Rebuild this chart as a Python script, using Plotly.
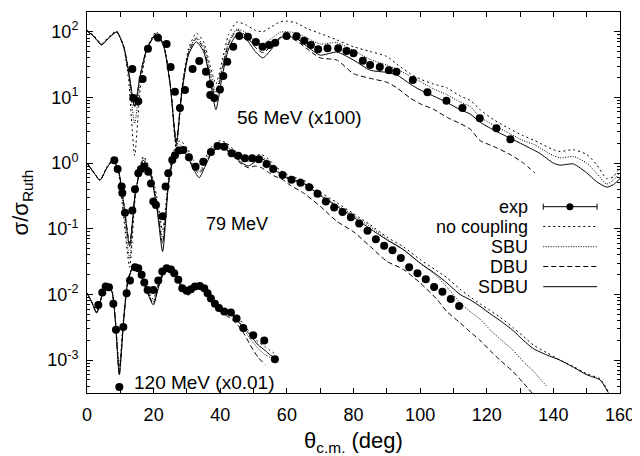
import math
import plotly.graph_objects as go

# ---- 56 MeV (x100) ----
exp56_x = [13.6, 13.9, 15.4, 16.7, 18.3, 21.3, 23.9, 25.1, 26.4, 27.9, 29.4, 31.7, 33.7, 35.7,
           36.9, 37.0, 38.2, 39.9, 40.9, 42.1, 43.9, 45.7, 48.3, 50.7, 52.7, 54.7, 56.5, 59.9,
           62.9, 65.2, 67.2, 69.4, 72.2, 75.4, 77.9, 80.0, 82.8, 85.0, 87.9, 90.6, 92.9, 97.8,
           102.2, 107.9, 112.7, 117.9, 122.9, 127.1]
exp56_y = [27, 9.8, 8.7, 19, 55, 81, 65, 29, 12.2, 6.9, 13, 27, 35.7, 24.6,
           15.8, 10.9, 9.8, 13.2, 21.2, 35, 59, 86, 84, 70, 59, 63, 68, 86,
           85, 73, 63, 54, 56, 56, 51, 47, 36, 31, 29, 26, 24.6, 18.4,
           12.0, 8.9, 6.9, 4.8, 3.4, 2.3]

th56 = [0, 2, 4.4, 6.5, 8.9, 11, 12.5, 14.3, 16, 18, 20.8, 23, 25, 26.8, 28.5, 30.5, 32.8, 35,
        37, 38.7, 40.5, 42.5, 45, 48, 50.5, 52.8, 55.5, 58, 60, 63, 66, 70, 75, 80, 85, 90, 93,
        97, 100, 104, 108, 112, 115, 118, 122, 127, 131, 134.4, 136, 140, 142, 146, 150, 153,
        156, 158, 160]
nc56 = [105, 88, 66, 83, 103, 58, 18, 1.3, 14, 55, 100, 66, 16, 1.6, 14, 55, 95, 70,
        30, 16, 35, 90, 140, 125, 105, 100, 120, 142, 145, 135, 112, 94, 75, 59, 50, 42, 32,
        23, 19, 16, 14, 10.5, 9, 6.5, 4.6, 3.3, 2.6, 2.2, 2.0, 1.6, 1.5, 1.6, 1.35, 0.95,
        0.58, 0.62, 0.87]
sbu56 = [104, 86, 64, 81, 100, 59, 22, 4, 18, 55, 95, 62, 15, 1.8, 13, 50, 82, 60,
         25, 12, 28, 70, 110, 95, 72, 65, 80, 98, 100, 95, 80, 65, 68, 52, 38, 31, 27,
         21, 17.5, 13.5, 11, 8.5, 7.3, 5.0, 3.8, 2.8, 2.2, 1.9, 1.7, 1.3, 1.2, 1.26, 1.0, 0.7,
         0.48, 0.55, 0.71]
dbu56 = [103, 85, 63, 80, 99, 60, 24, 7, 22, 56, 92, 62, 16, 2.2, 13, 48, 78, 55,
         20, 10, 25, 65, 105, 85, 58, 48, 62, 82, 84, 72, 55, 40, 37, 23, 19.5, 17, 14,
         9.8, 8, 6.6, 5.0, 4.0, 3.3, 2.2, 1.8, 1.35, 1.0, 0.71, None, None, None, None, None, None,
         None, None, None]
sdbu56 = [103, 85, 63, 80, 98, 60, 25, 7.3, 22, 55, 90, 60, 15, 2.0, 12, 45, 70, 50,
          18, 6.5, 20, 55, 90, 75, 50, 40, 55, 80, 86, 78, 60, 44, 49, 37, 26, 24, 22,
          16, 13, 10.5, 8.4, 6.5, 5.6, 4.2, 3.2, 2.4, 1.9, 1.55, 1.4, 1.0, 0.93, 0.97, 0.71, 0.52,
          0.43, 0.47, 0.58]

# ---- 79 MeV ----
exp79_x = [8.2, 9.2, 10.4, 10.6, 11.4, 13.6, 14.4, 15.4, 16.2, 17.2, 18.4, 19.2, 19.9, 20.7,
           22.7, 23.6, 24.4, 25.6, 26.4, 27.6, 28.9, 30.6, 32.6, 34.9, 37.2, 39.2, 41.2, 43.4,
           45.4, 47.4, 49.6, 51.6, 53.9, 55.9, 58.7, 61.4, 64.1, 66.7, 69.2, 71.7, 74.2, 76.7,
           79.2, 81.7, 84.2, 86.7, 89.2, 91.7, 94.2, 96.7, 99.2, 101.7, 104.2, 106.7, 109.2, 111.7]
exp79_y = [1.1, 0.81, 0.44, 0.35, 0.176, 0.19, 0.40, 0.70, 0.81, 0.88, 0.74, 0.49, 0.26, 0.23,
           0.155, 0.44, 0.70, 1.11, 1.32, 1.55, 1.58, 1.23, 0.88, 1.05, 1.48, 1.82, 1.78, 1.41,
           1.29, 1.18, 1.18, 1.14, 0.97, 0.81, 0.66, 0.56, 0.50, 0.43, 0.34, 0.26, 0.21, 0.18,
           0.15, 0.12, 0.093, 0.069, 0.055, 0.047, 0.036, 0.026, 0.021, 0.017, 0.013, 0.011,
           0.0085, 0.0067]

th79 = [0, 2, 3.9, 6, 7.9, 9.5, 11, 12.8, 14.5, 16.9, 19, 21, 22.7, 24.5, 26, 27.9, 30, 32,
        33.7, 35.5, 37.5, 39.9, 42, 44, 46, 48.4, 50.5, 52.4, 54.5, 56.4, 58.5, 61, 65, 70, 75,
        80, 85, 90, 95, 100, 105, 108, 112, 115, 118, 121, 124, 128, 131, 134, 138, 142, 146,
        150, 154, 156.5]
nc79 = [1.0, 0.73, 0.56, 0.88, 1.15, 0.7, 0.15, 0.026, 0.3, 1.26, 0.8, 0.3, 0.095, 0.6, 1.5,
        2.2, 1.7, 1.1, 0.93, 1.2, 1.8, 2.2, 2.0, 1.6, 1.35, 1.2, 1.3, 1.35, 1.15, 0.9, 0.75,
        0.63, 0.55, 0.36, 0.25, 0.17, 0.115, 0.075, 0.053, 0.034, 0.023, 0.018, 0.012, 0.0092,
        0.0072, 0.0057, 0.0045, 0.0031, 0.0023, 0.0017, 0.0013, 0.001, 0.0008, 0.00062,
        0.00052, 0.00033]
sbu79 = [1.0, 0.72, 0.55, 0.86, 1.12, 0.72, 0.2, 0.035, 0.32, 1.2, 0.75, 0.25, 0.07, 0.55,
         1.35, 1.9, 1.5, 0.95, 0.75, 1.05, 1.6, 2.0, 1.8, 1.45, 1.2, 1.05, 1.15, 1.25, 1.05,
         0.82, 0.68, 0.58, 0.5, 0.33, 0.23, 0.16, 0.108, 0.07, 0.048, 0.03, 0.019, 0.013,
         0.0075, 0.0055, 0.0042, 0.0029, 0.0021, 0.0014, 0.00095, 0.00068, 0.0004, None, None,
         None, None, None]
dbu79 = [1.0, 0.72, 0.55, 0.85, 1.1, 0.75, 0.25, 0.06, 0.35, 1.1, 0.7, 0.22, 0.06, 0.5, 1.2,
         1.65, 1.3, 0.85, 0.7, 0.95, 1.45, 1.75, 1.55, 1.25, 1.0, 0.85, 0.9, 0.85, 0.72, 0.63,
         0.57, 0.46, 0.35, 0.22, 0.13, 0.09, 0.054, 0.032, 0.024, 0.015, 0.0085, 0.0055,
         0.0037, 0.0027, 0.002, 0.0014, 0.001, 0.00066, 0.00045, 0.0003, None, None, None,
         None, None, None]
sdbu79 = [1.0, 0.72, 0.55, 0.85, 1.1, 0.75, 0.25, 0.054, 0.35, 1.1, 0.7, 0.2, 0.045, 0.5,
          1.2, 1.68, 1.3, 0.8, 0.6, 0.9, 1.45, 1.82, 1.6, 1.3, 1.05, 0.9, 1.05, 1.17, 1.0,
          0.79, 0.65, 0.56, 0.49, 0.32, 0.22, 0.15, 0.10, 0.068, 0.048, 0.030, 0.020, 0.015,
          0.010, 0.0083, 0.0066, 0.0051, 0.004, 0.0028, 0.002, 0.0015, 0.0012, 0.001, 0.00078,
          0.0006, 0.0005, 0.00032]

# ---- 120 MeV (x0.01) ----
exp120_x = [3.4, 4.6, 5.6, 6.6, 7.9, 8.7, 9.7, 10.9, 11.9, 12.9, 14.4, 15.4, 16.4, 17.2, 18.2,
            19.9, 21.4, 22.6, 23.9, 25.2, 26.2, 27.4, 28.6, 29.9, 31.2, 32.4, 33.9, 35.2, 36.2,
            37.2, 38.4, 39.6, 41.2, 43.2, 44.9, 46.9, 49.9, 53.2, 56.4]
exp120_y = [0.0069, 0.0107, 0.0132, 0.0129, 0.0072, 0.0029, 0.00039, 0.0032, 0.0104, 0.0163,
            0.026, 0.025, 0.020, 0.0152, 0.0117, 0.0117, 0.0163, 0.0224, 0.025, 0.024, 0.021,
            0.0167, 0.0124, 0.0114, 0.0120, 0.0132, 0.0135, 0.0124, 0.0104, 0.0087, 0.0072,
            0.0062, 0.0055, 0.0053, 0.0043, 0.0031, 0.0024, 0.0020, 0.00103]

th120 = [0, 1.5, 2.9, 4.5, 6.2, 7.5, 8.5, 9.7, 11, 12.3, 13.9, 15.5, 17.5, 19.9, 21.5, 23.9,
         26, 28, 30.4, 33.4, 35.5, 37.5, 39.4, 41.5, 43.4, 45.5, 47.4, 49, 51.4, 53.5, 55, 57]
nc120 = [0.0105, 0.0076, 0.0054, 0.0098, 0.014, 0.0115, 0.0045, 0.0008, 0.0045, 0.017, 0.027,
         0.025, 0.014, 0.0085, 0.015, 0.027, 0.023, 0.015, 0.0115, 0.0142, 0.0125, 0.009,
         0.0068, 0.006, 0.0053, 0.0043, 0.0033, 0.0026, 0.0019, 0.0016, 0.0014, 0.0012]
sbu120 = [0.0105, 0.0075, 0.0053, 0.0096, 0.0137, 0.0112, 0.0042, 0.0007, 0.0042, 0.0165,
          0.0265, 0.0245, 0.0135, 0.0078, 0.014, 0.0265, 0.0225, 0.0145, 0.0108, 0.014,
          0.0122, 0.0088, 0.0065, 0.0057, 0.005, 0.0039, 0.0028, 0.0021, 0.0015, 0.0012,
          0.0011, 0.001]
dbu120 = [0.0105, 0.0075, 0.0052, 0.0095, 0.0135, 0.011, 0.004, 0.0006, 0.004, 0.016, 0.026,
          0.024, 0.013, 0.0072, 0.0135, 0.026, 0.022, 0.014, 0.01, 0.0135, 0.0115, 0.008,
          0.0058, 0.0049, 0.0042, 0.0033, 0.0024, 0.0017, 0.0011, 0.00085, None, None]
sdbu120 = [0.0105, 0.0075, 0.0052, 0.0095, 0.0135, 0.011, 0.004, 0.0006, 0.004, 0.016, 0.026,
           0.024, 0.013, 0.0069, 0.013, 0.026, 0.022, 0.014, 0.0098, 0.0138, 0.012, 0.0085,
           0.0062, 0.0055, 0.0049, 0.0038, 0.003, 0.0024, 0.0017, 0.0014, 0.0012, 0.00105]

# energy labels: (text, angle, value, font size)
labels = [("56 MeV (x100)", 63.9, 4.9, 19), ("79 MeV", 44.9, 0.12, 18),
          ("120 MeV (x0.01)", 35.1, 4.5e-4, 19)]

y_ticks = [1e-3, 1e-2, 1e-1, 1, 10, 100]
y_ticktext = ["10<sup>-3</sup>", "10<sup>-2</sup>", "10<sup>-1</sup>", "10<sup>0</sup>",
              "10<sup>1</sup>", "10<sup>2</sup>"]

FONT = "Liberation Sans, Arial, Helvetica, sans-serif"
dash_nc = "2px,3px"
dash_sbu = "1px,1.5px"
dash_dbu = "5px,3px"

fig = go.Figure()

def curve(x, y, dash):
    fig.add_trace(go.Scatter(x=x, y=y, mode="lines", line=dict(color="black", width=1, dash=dash,
                             shape="spline", smoothing=0.6), connectgaps=False,
                             showlegend=False, hoverinfo="skip"))

for th, nc, sbu, dbu, sdbu in [(th56, nc56, sbu56, dbu56, sdbu56),
                               (th79, nc79, sbu79, dbu79, sdbu79),
                               (th120, nc120, sbu120, dbu120, sdbu120)]:
    curve(th, nc, dash_nc)
    curve(th, sbu, dash_sbu)
    curve(th, dbu, dash_dbu)
    curve(th, sdbu, "solid")

for ex, ey in [(exp56_x, exp56_y), (exp79_x, exp79_y), (exp120_x, exp120_y)]:
    fig.add_trace(go.Scatter(x=ex, y=ey, mode="markers", marker=dict(color="black", size=8),
                             showlegend=False))

for txt, lx, ly, fs in labels:
    fig.add_annotation(x=lx, y=math.log10(ly), xref="x", yref="y", text=txt, showarrow=False,
                       font=dict(size=fs, color="black", family=FONT))

# gnuplot-style key: text right aligned, sample on the right
key = [("exp", None), ("no coupling", dash_nc), ("SBU", dash_sbu), ("DBU", dash_dbu), ("SDBU", "solid")]
key_y = [0.489, 0.437, 0.384, 0.332, 0.279]
for (name, dash), ky in zip(key, key_y):
    fig.add_annotation(x=0.831, y=ky, xref="paper", yref="paper", text=name, showarrow=False,
                       xanchor="right", yanchor="middle", font=dict(size=18, color="black", family=FONT))
    fig.add_shape(type="line", xref="paper", yref="paper", x0=0.856, x1=0.957, y0=ky, y1=ky,
                  line=dict(color="black", width=1, dash=dash if dash else "solid"))
    if dash is None:
        for cx in (0.856, 0.957):
            fig.add_shape(type="line", xref="paper", yref="paper", x0=cx, x1=cx,
                          ysizemode="pixel", yanchor=ky, y0=-3, y1=3, line=dict(color="black", width=1))
        fig.add_shape(type="circle", xref="paper", yref="paper", xsizemode="pixel", ysizemode="pixel",
                      xanchor=0.906, yanchor=ky, x0=-3.5, x1=3.5, y0=-3.5, y1=3.5,
                      fillcolor="black", line=dict(color="black", width=0))

# page body has an 8px margin, so the figure is shrunk and shifted to land on the same pixels
fig.update_layout(
    width=632, height=448,
    margin=dict(l=79, r=20, t=4, b=63),
    paper_bgcolor="white", plot_bgcolor="white",
    font=dict(family=FONT, size=18, color="black"),
    xaxis=dict(range=[0, 160], tick0=0, dtick=20,
               ticks="inside", ticklen=5, tickcolor="black", showline=True, linecolor="black",
               linewidth=1, mirror="ticks", showgrid=False, zeroline=False, ticklabelstandoff=5,
               minor=dict(dtick=10, ticks="inside", ticklen=5, tickcolor="black", showgrid=False),
               title=dict(text="θ<sub>c.m.</sub> (deg)", standoff=12)),
    yaxis=dict(type="log", range=[-3.5, 2.3], tickvals=y_ticks, ticktext=y_ticktext,
               ticks="inside", ticklen=6, tickcolor="black", showline=True, linecolor="black",
               linewidth=1, mirror="ticks", showgrid=False, zeroline=False, ticklabelstandoff=4,
               minor=dict(tickvals=[k * 10 ** e for e in range(-4, 3) for k in range(2, 10)],
                          ticks="inside", ticklen=3, tickcolor="black", showgrid=False),
               title=dict(text="σ/σ<sub>Ruth</sub>", standoff=16)),
)

fig.write_html("out.html")
